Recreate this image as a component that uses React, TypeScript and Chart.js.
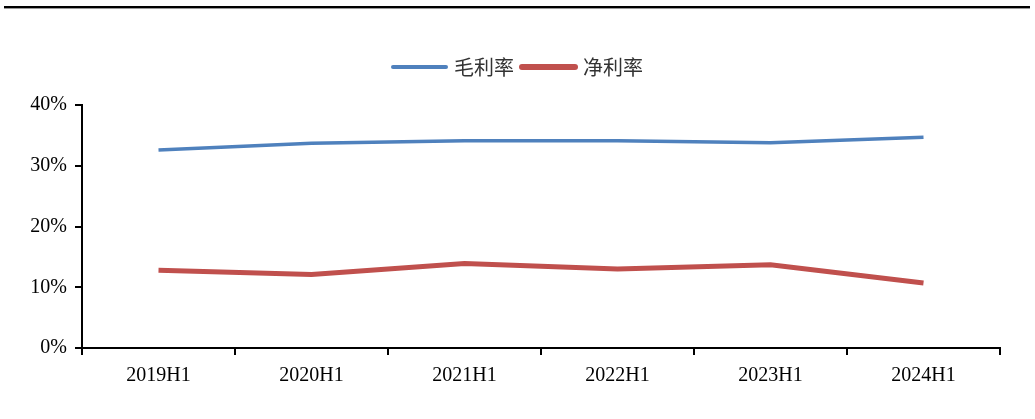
import React, { useEffect, useRef } from "react";
import { Chart, registerables } from "chart.js";

Chart.register(...registerables);

const categories = ["2019H1", "2020H1", "2021H1", "2022H1", "2023H1", "2024H1"];
const grossMargin = [32.6, 33.7, 34.1, 34.1, 33.8, 34.7];
const netMargin = [12.8, 12.1, 13.9, 13.0, 13.7, 10.7];
const seriesNames = ["毛利率", "净利率"];
const seriesColors = ["#4F81BD", "#C0504D"];
const yTicks = [0, 10, 20, 30, 40];

const W = 1035;
const H = 419;

const topRulePlugin = {
  id: "topRule",
  afterDraw(chart: any) {
    const ctx = chart.ctx;
    ctx.save();
    ctx.fillStyle = "#000";
    ctx.fillRect(4, 6, 1026, 2);
    ctx.fillStyle = "#999";
    ctx.fillRect(4, 8, 1026, 1);
    ctx.restore();
  },
};

const legendPlugin = {
  id: "customLegend",
  afterDraw(chart: any) {
    const ctx = chart.ctx;
    ctx.save();
    ctx.font = '20px "Noto Sans CJK SC"';
    ctx.textBaseline = "middle";
    const lineLen = 57;
    const gapLineText = 6;
    const gapItems = 6;
    const widths = seriesNames.map((n) => ctx.measureText(n).width);
    let total = 0;
    widths.forEach((w, i) => {
      total += lineLen + gapLineText + w + (i < widths.length - 1 ? gapItems : 0);
    });
    let x = 517 - total / 2;
    const y = 67;
    seriesNames.forEach((n, i) => {
      ctx.strokeStyle = seriesColors[i];
      ctx.lineWidth = i === 0 ? 4 : 6;
      ctx.lineCap = "round";
      ctx.beginPath();
      ctx.moveTo(x + 2, y);
      ctx.lineTo(x + lineLen - 2, y);
      ctx.stroke();
      x += lineLen + gapLineText;
      ctx.fillStyle = "#333";
      ctx.textAlign = "left";
      ctx.fillText(n, x, y);
      x += widths[i] + gapItems;
    });
    ctx.restore();
  },
};

export default function App() {
  const ref = useRef<HTMLCanvasElement | null>(null);
  useEffect(() => {
    if (!ref.current) return;
    const chart = new Chart(ref.current, {
      type: "line",
      data: {
        labels: categories,
        datasets: [
          {
            label: seriesNames[0],
            data: grossMargin,
            borderColor: seriesColors[0],
            backgroundColor: seriesColors[0],
            borderWidth: 3.5,
            pointRadius: 0,
            tension: 0,
          },
          {
            label: seriesNames[1],
            data: netMargin,
            borderColor: seriesColors[1],
            backgroundColor: seriesColors[1],
            borderWidth: 5,
            pointRadius: 0,
            tension: 0,
          },
        ],
      },
      options: {
        responsive: false,
        animation: false,
        devicePixelRatio: 1,
        layout: { padding: { top: 105, right: 35, left: 0, bottom: 0 } },
        plugins: { legend: { display: false }, tooltip: { enabled: false } },
        scales: {
          x: {
            offset: true,
            grid: {
              offset: true,
              drawOnChartArea: false,
              drawTicks: true,
              tickLength: 7,
              color: "#000",
              lineWidth: 2,
            },
            border: { display: true, color: "#000", width: 2 },
            ticks: {
              color: "#000",
              font: { family: '"Liberation Serif"', size: 20 },
              padding: 9,
              maxRotation: 0,
            },
            afterFit: (s: any) => {
              s.height = H - 348;
            },
          },
          y: {
            min: 0,
            max: 40,
            afterBuildTicks: (s: any) => {
              s.ticks = yTicks.map((v) => ({ value: v }));
            },
            grid: {
              drawOnChartArea: false,
              drawTicks: true,
              tickLength: 7,
              color: "#000",
              lineWidth: 2,
            },
            border: { display: true, color: "#000", width: 2 },
            ticks: {
              color: "#000",
              font: { family: '"Liberation Serif"', size: 20 },
              padding: 8,
              callback: (v: any) => `${v}%`,
            },
            afterFit: (s: any) => {
              s.width = 82;
            },
          },
        },
      },
      plugins: [topRulePlugin, legendPlugin],
    });
    return () => chart.destroy();
  }, []);
  return (
    <div style={{ position: "fixed", left: 0, top: 0, width: W, height: H, background: "#fff" }}>
      <canvas ref={ref} width={W} height={H} style={{ width: W, height: H, display: "block" }} />
    </div>
  );
}
